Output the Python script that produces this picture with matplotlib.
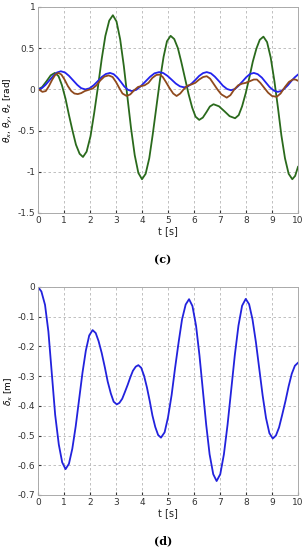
import matplotlib
matplotlib.use('Agg')
import matplotlib.pyplot as plt
from matplotlib.ticker import FormatStrFormatter

# (c) angulos theta_x (azul), theta_y (verde), theta_z (marron) [rad]
t_green = [0, 0.16, 0.33, 0.49, 0.65, 0.79, 0.92, 1.06, 1.19, 1.33, 1.46, 1.60, 1.73,
           1.87, 2.02, 2.16, 2.31, 2.45, 2.59, 2.74, 2.88, 3.02, 3.16, 3.30, 3.44, 3.58,
           3.72, 3.86, 4.0, 4.14, 4.28, 4.41, 4.55, 4.69, 4.83, 4.96, 5.1, 5.24, 5.38,
           5.51, 5.65, 5.79, 5.93, 6.06, 6.2, 6.34, 6.48, 6.61, 6.75, 6.96, 7.17, 7.37,
           7.58, 7.72, 7.85, 7.99, 8.13, 8.26, 8.40, 8.53, 8.67, 8.81, 8.95, 9.09, 9.23,
           9.36, 9.50, 9.64, 9.78, 9.89, 10.0]
theta_y = [0, 0.029, 0.1, 0.171, 0.2, 0.161, 0.051, -0.115, -0.31, -0.505, -0.671, -0.781,
           -0.82, -0.755, -0.568, -0.289, 0.04, 0.369, 0.648, 0.835, 0.9, 0.824, 0.608,
           0.286, -0.095, -0.476, -0.798, -1.014, -1.09, -1.024, -0.835, -0.553, -0.22,
           0.113, 0.395, 0.584, 0.65, 0.611, 0.501, 0.335, 0.14, -0.055, -0.221, -0.331,
           -0.37, -0.342, -0.275, -0.208, -0.18, -0.205, -0.265, -0.325, -0.35, -0.312,
           -0.205, -0.045, 0.145, 0.335, 0.495, 0.602, 0.64, 0.574, 0.387, 0.106, -0.225,
           -0.556, -0.837, -1.024, -1.09, -1.05, -0.94]

t_blue = [0, 0.15, 0.29, 0.44, 0.59, 0.73, 0.88, 1.04, 1.19, 1.35, 1.51, 1.66, 1.82, 1.98,
          2.14, 2.30, 2.45, 2.61, 2.77, 2.91, 3.05, 3.19, 3.32, 3.46, 3.60, 3.78, 3.95,
          4.13, 4.31, 4.48, 4.66, 4.82, 4.98, 5.14, 5.30, 5.46, 5.62, 5.77, 5.91, 6.06,
          6.20, 6.35, 6.49, 6.65, 6.80, 6.96, 7.11, 7.27, 7.42, 7.57, 7.71, 7.86, 8.01,
          8.15, 8.30, 8.45, 8.61, 8.76, 8.91, 9.07, 9.22, 9.35, 9.48, 9.61, 9.74, 9.87, 10.0]
theta_x = [0, 0.015, 0.055, 0.11, 0.165, 0.205, 0.22, 0.205, 0.165, 0.11, 0.055, 0.015, 0.0,
           0.013, 0.05, 0.1, 0.15, 0.187, 0.2, 0.185, 0.145, 0.09, 0.035, -0.005, -0.02,
           -0.005, 0.038, 0.095, 0.153, 0.195, 0.21, 0.198, 0.164, 0.118, 0.071, 0.037,
           0.025, 0.037, 0.071, 0.118, 0.164, 0.198, 0.21, 0.195, 0.155, 0.1, 0.045, 0.005,
           -0.01, 0.004, 0.043, 0.095, 0.148, 0.186, 0.2, 0.185, 0.143, 0.085, 0.028,
           -0.015, -0.03, -0.02, 0.01, 0.05, 0.1, 0.145, 0.18]

t_brown = [0, 0.08, 0.17, 0.3, 0.42, 0.55, 0.67, 0.79, 0.9, 1.02, 1.15, 1.28, 1.4, 1.53,
           1.66, 1.8, 1.95, 2.1, 2.25, 2.4, 2.55, 2.72, 2.87, 3.0, 3.12, 3.25, 3.41, 3.55,
           3.7, 3.85, 3.97, 4.1, 4.25, 4.4, 4.55, 4.69, 4.8, 4.92, 5.05, 5.2, 5.33, 5.47,
           5.6, 5.75, 5.9, 6.05, 6.2, 6.35, 6.49, 6.62, 6.75, 6.9, 7.05, 7.26, 7.4, 7.55,
           7.7, 7.85, 8.0, 8.15, 8.3, 8.42, 8.55, 8.7, 8.85, 9.0, 9.18, 9.33, 9.5, 9.65,
           9.8, 9.9, 10.0]
theta_z = [0, -0.01, -0.03, -0.02, 0.04, 0.12, 0.18, 0.2, 0.18, 0.12, 0.04, -0.02, -0.05,
           -0.057, -0.045, -0.02, -0.005, 0.01, 0.05, 0.11, 0.155, 0.17, 0.15, 0.09, 0.02,
           -0.05, -0.08, -0.06, -0.01, 0.03, 0.04, 0.05, 0.08, 0.14, 0.175, 0.18, 0.15,
           0.09, 0.02, -0.05, -0.08, -0.05, 0.0, 0.045, 0.06, 0.08, 0.12, 0.15, 0.16, 0.13,
           0.07, 0.0, -0.06, -0.1, -0.07, 0.0, 0.05, 0.07, 0.08, 0.1, 0.12, 0.12, 0.08,
           0.02, -0.04, -0.08, -0.09, -0.05, 0.03, 0.09, 0.12, 0.12, 0.105]

# (d) desplazamiento delta_x [m]
t_d = [0, 0.13, 0.27, 0.40, 0.53, 0.66, 0.80, 0.93, 1.06, 1.19, 1.32, 1.45, 1.58, 1.71,
       1.84, 1.97, 2.10, 2.22, 2.33, 2.45, 2.57, 2.68, 2.80, 2.91, 3.03, 3.13, 3.24, 3.34,
       3.45, 3.55, 3.65, 3.76, 3.86, 3.97, 4.08, 4.19, 4.30, 4.40, 4.51, 4.62, 4.73, 4.87,
       5.00, 5.14, 5.27, 5.41, 5.54, 5.68, 5.81, 5.94, 6.08, 6.21, 6.34, 6.47, 6.60, 6.74,
       6.87, 7.01, 7.15, 7.29, 7.43, 7.57, 7.71, 7.85, 7.99, 8.12, 8.25, 8.38, 8.51, 8.64,
       8.77, 8.90, 9.03, 9.15, 9.27, 9.39, 9.52, 9.64, 9.76, 9.88, 10.0]
delta_x = [0, -0.015, -0.06, -0.15, -0.29, -0.43, -0.53, -0.59, -0.613, -0.595, -0.544,
           -0.469, -0.379, -0.289, -0.214, -0.163, -0.145, -0.155, -0.182, -0.222, -0.27,
           -0.318, -0.358, -0.386, -0.395, -0.390, -0.376, -0.354, -0.329, -0.304, -0.282,
           -0.268, -0.263, -0.272, -0.299, -0.338, -0.385, -0.432, -0.471, -0.498, -0.507,
           -0.489, -0.439, -0.363, -0.274, -0.185, -0.109, -0.059, -0.041, -0.064, -0.131,
           -0.230, -0.347, -0.464, -0.563, -0.630, -0.653, -0.630, -0.563, -0.464, -0.347,
           -0.229, -0.130, -0.063, -0.040, -0.058, -0.109, -0.185, -0.275, -0.365, -0.441,
           -0.492, -0.510, -0.500, -0.473, -0.431, -0.383, -0.334, -0.292, -0.265, -0.255]

x_ticks = list(range(0, 11))
y_ticks_c = [-1.5, -1, -0.5, 0, 0.5, 1]
y_ticks_d = [-0.7, -0.6, -0.5, -0.4, -0.3, -0.2, -0.1, 0]


def estilo_ejes(ax, yticks, ylim):
    ax.set_xlim(0, 10)
    ax.set_ylim(*ylim)
    ax.set_xticks(x_ticks)
    ax.set_yticks(yticks)
    ax.yaxis.set_major_formatter(FormatStrFormatter('%g'))
    ax.grid(True, linestyle=(0, (3, 3)), color='#b5b5b5', linewidth=0.6)
    ax.tick_params(direction='in', length=2, labelsize=6.5, colors='#333333', pad=2)
    for s in ax.spines.values():
        s.set_color('#aaaaaa')
        s.set_linewidth(0.7)
    ax.set_xlabel('t [s]', fontsize=7, labelpad=1, color='#222222')


fig = plt.figure(figsize=(3.05, 5.5), dpi=100)

ax1 = fig.add_axes([38 / 305, 1 - 213 / 550, 260 / 305, 206 / 550])
ax1.plot(t_green, theta_y, color='#2a6a1c', lw=1.3)
ax1.plot(t_blue, theta_x, color='#2222ee', lw=1.3)
ax1.plot(t_brown, theta_z, color='#8f4a1e', lw=1.3)
estilo_ejes(ax1, y_ticks_c, (-1.5, 1))
ax1.set_ylabel(r'$\theta_x$, $\theta_y$, $\theta_z$ [rad]', fontsize=6.5, labelpad=2)

ax2 = fig.add_axes([38 / 305, 1 - 495 / 550, 260 / 305, 208 / 550])
ax2.plot(t_d, delta_x, color='#2222dd', lw=1.3)
estilo_ejes(ax2, y_ticks_d, (-0.7, 0))
ax2.set_ylabel(r'$\delta_x$ [m]', fontsize=6.5, labelpad=2)

fig.text(163 / 305, 1 - 260 / 550, '(c)', ha='center', va='center',
         fontsize=8, fontweight='bold', family='DejaVu Serif')
fig.text(163 / 305, 1 - 541 / 550, '(d)', ha='center', va='center',
         fontsize=8, fontweight='bold', family='DejaVu Serif')

fig.savefig('out.png', dpi=100)
